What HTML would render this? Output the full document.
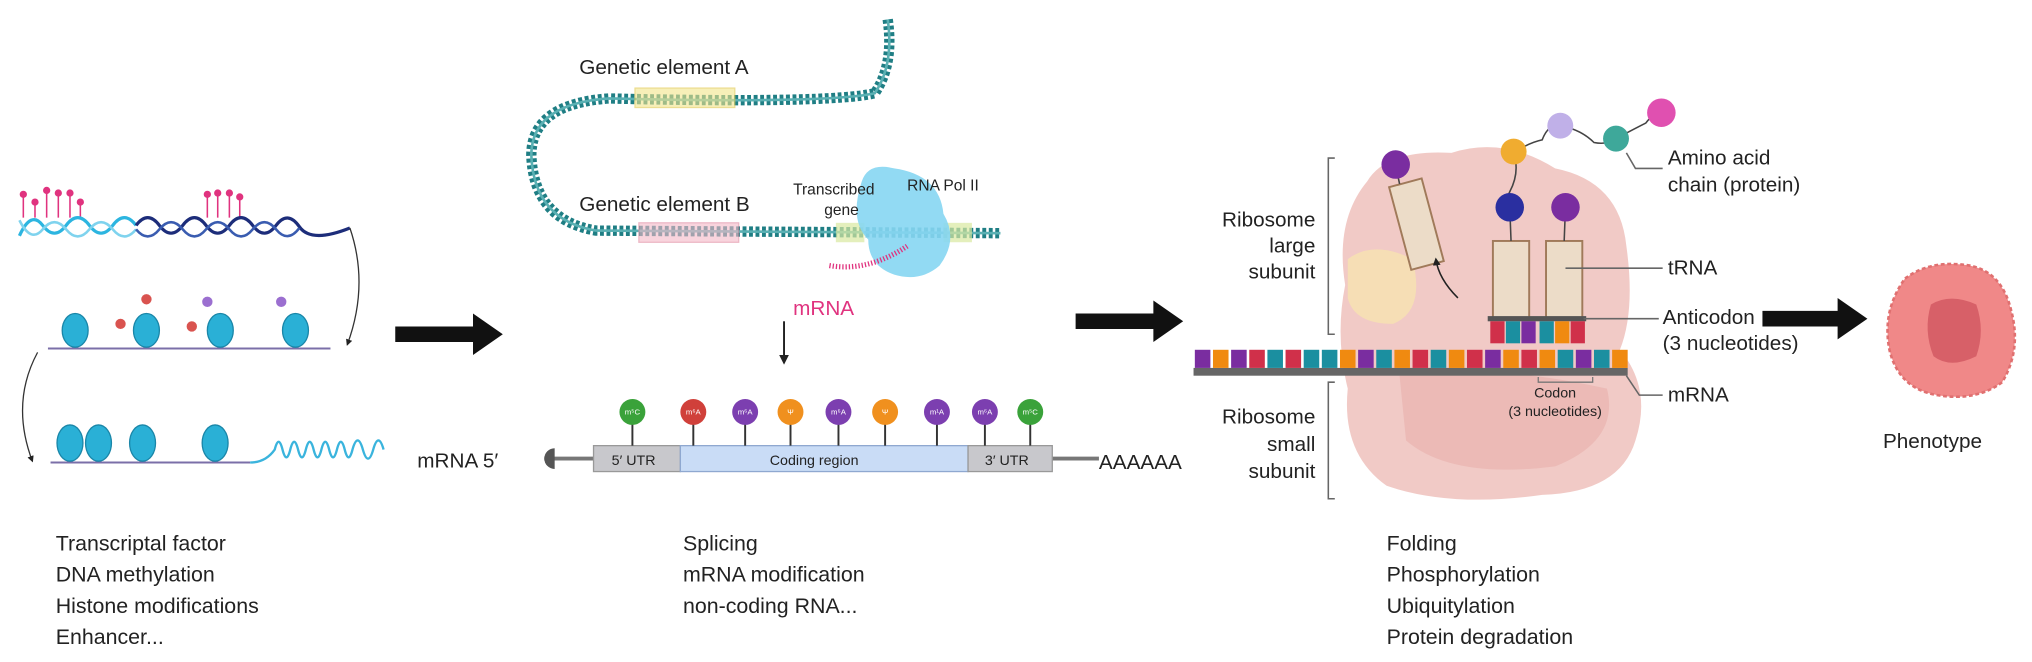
<!DOCTYPE html>
<html><head><meta charset="utf-8"><style>
html,body{margin:0;padding:0;background:#fff;}
svg{display:block;}
text{font-family:"Liberation Sans",sans-serif;fill:#222;}
</style></head><body>
<svg width="2032" height="662" viewBox="0 0 1568 511" preserveAspectRatio="none" xmlns="http://www.w3.org/2000/svg">
<defs>
<marker id="ah" viewBox="0 0 10 10" refX="8" refY="5" markerWidth="5" markerHeight="5" orient="auto"><path d="M0,0L10,5L0,10z" fill="#222"/></marker>
</defs>
<!-- LEFT: DNA with methylation -->
<g stroke="#e0337f" stroke-width="1.2" fill="#e0337f">
<line x1="18" y1="150" x2="18" y2="168"/><circle cx="18" cy="150" r="2.2"/>
<line x1="27" y1="156" x2="27" y2="168"/><circle cx="27" cy="156" r="2.2"/>
<line x1="36" y1="147" x2="36" y2="168"/><circle cx="36" cy="147" r="2.2"/>
<line x1="45" y1="149" x2="45" y2="168"/><circle cx="45" cy="149" r="2.2"/>
<line x1="54" y1="149" x2="54" y2="168"/><circle cx="54" cy="149" r="2.2"/>
<line x1="62" y1="156" x2="62" y2="168"/><circle cx="62" cy="156" r="2.2"/>
<line x1="160" y1="150" x2="160" y2="168"/><circle cx="160" cy="150" r="2.2"/>
<line x1="168" y1="149" x2="168" y2="168"/><circle cx="168" cy="149" r="2.2"/>
<line x1="177" y1="149" x2="177" y2="168"/><circle cx="177" cy="149" r="2.2"/>
<line x1="185" y1="152" x2="185" y2="168"/><circle cx="185" cy="152" r="2.2"/>
</g>
<path d="M15,182 Q24,162 33,174 T51,174 T69,174 T87,174 T105,174" fill="none" stroke="#2cb5e0" stroke-width="2.5"/>
<path d="M15,170 Q24,188 33,177 T51,177 T69,177 T87,177 T105,177" fill="none" stroke="#7fd3ee" stroke-width="2"/>
<path d="M105,174 Q114,162 123,174 T141,174 T159,174 T177,174 T195,174 T213,174 T231,175 T270,176" fill="none" stroke="#1d2d7a" stroke-width="2.5"/>
<path d="M105,177 Q114,188 123,177 T141,177 T159,177 T177,177 T195,177 T213,177 T231,176" fill="none" stroke="#3a5cb0" stroke-width="2"/>
<path d="M270,176 Q285,220 268,266" fill="none" stroke="#333" stroke-width="1" marker-end="url(#ah)"/>
<!-- nucleosomes row 1 -->
<path d="M37,269 L255,269" stroke="#7b6fa8" stroke-width="1.6"/>
<g fill="#2ab0d6" stroke="#1a86a8" stroke-width="1">
<ellipse cx="58" cy="255" rx="10" ry="13"/><ellipse cx="113" cy="255" rx="10" ry="13"/><ellipse cx="170" cy="255" rx="10" ry="13"/><ellipse cx="228" cy="255" rx="10" ry="13"/>
</g>
<g fill="#d9534f"><circle cx="113" cy="231" r="4"/><circle cx="93" cy="250" r="4"/><circle cx="148" cy="252" r="4"/></g>
<g fill="#9b6fd0"><circle cx="160" cy="233" r="4"/><circle cx="217" cy="233" r="4"/></g>
<path d="M29,272 Q8,311 25,356" fill="none" stroke="#333" stroke-width="1" marker-end="url(#ah)"/>
<!-- row 2 -->
<path d="M39,357 L193,357" stroke="#7b6fa8" stroke-width="1.6"/>
<g fill="#2ab0d6" stroke="#1a86a8" stroke-width="1">
<ellipse cx="54" cy="342" rx="10" ry="14"/><ellipse cx="76" cy="342" rx="10" ry="14"/><ellipse cx="110" cy="342" rx="10" ry="14"/><ellipse cx="166" cy="342" rx="10" ry="14"/>
</g>
<path d="M193,357 Q205,357 212,347 q3,-12 6,0 q3,12 6,0 q3,-12 6,0 q3,12 6,0 q3,-12 6,0 q3,12 6,0 q3,-12 6,0 q3,12 6,0 q3,-12 6,0 q3,12 6,0 q4,-14 8,0 q4,14 8,0 q4,-14 8,0" fill="none" stroke="#3ab4dd" stroke-width="1.8"/>
<text x="322" y="361" font-size="16">mRNA 5′</text>
<!-- big arrow 1 -->
<path d="M305,252 L365,252 L365,242 L388,258 L365,274 L365,264 L305,264Z" fill="#111"/>
<!-- MIDDLE DNA -->
<path d="M685,15 Q690,50 675,72 Q640,80 470,76 Q410,80 410,120 Q412,170 460,178 L772,180" fill="none" stroke="#1f7e84" stroke-width="8" stroke-dasharray="3,2"/>
<path d="M685,15 Q690,50 675,72 Q640,80 470,76 Q410,80 410,120 Q412,170 460,178 L772,180" fill="none" stroke="#5ab0b3" stroke-width="2"/>
<rect x="490" y="68" width="77" height="15" fill="#f3e58a" opacity="0.6" stroke="#e0c84a"/>
<rect x="493" y="172" width="77" height="15" fill="#f5b9c8" opacity="0.6" stroke="#e08aa0"/>
<rect x="645" y="172" width="22" height="15" fill="#d8e8a0" opacity="0.7"/>
<rect x="728" y="172" width="22" height="15" fill="#d8e8a0" opacity="0.7"/>
<text x="447" y="57" font-size="16">Genetic element A</text>
<text x="447" y="163" font-size="16">Genetic element B</text>
<path d="M665,140 Q670,125 690,130 Q725,135 728,165 Q740,185 725,205 Q710,218 690,212 Q670,205 670,185 Q655,170 665,140Z" fill="#86d6f2" opacity="0.9"/>
<path d="M640,205 Q670,210 700,190" fill="none" stroke="#e0337f" stroke-width="4" stroke-dasharray="1,1.5"/>
<text x="612" y="150" font-size="12" fill="#444">Transcribed</text>
<text x="636" y="166" font-size="12" fill="#444">gene</text>
<text x="700" y="147" font-size="12" fill="#444">RNA Pol II</text>
<text x="612" y="243" font-size="16" style="fill:#e0337f">mRNA</text>
<line x1="605" y1="248" x2="605" y2="280" stroke="#222" stroke-width="1.5" marker-end="url(#ah)"/>
<!-- mRNA bar -->
<line x1="420" y1="354" x2="848" y2="354" stroke="#777" stroke-width="3"/>
<path d="M428,346 A8,8 0 0 0 428,362Z" fill="#555"/>
<rect x="458" y="344" width="67" height="20" fill="#c8c8cc" stroke="#999"/>
<rect x="525" y="344" width="222" height="20" fill="#c9dcf6" stroke="#8fa8d0"/>
<rect x="747" y="344" width="65" height="20" fill="#c8c8cc" stroke="#999"/>
<text x="472" y="359" font-size="11" fill="#333">5′ UTR</text>
<text x="594" y="359" font-size="11" fill="#333">Coding region</text>
<text x="760" y="359" font-size="11" fill="#333">3′ UTR</text>
<text x="848" y="362" font-size="16">AAAAAA</text>
<g stroke="#333" stroke-width="1.5">
<line x1="488" y1="320" x2="488" y2="344"/><line x1="535" y1="320" x2="535" y2="344"/><line x1="575" y1="320" x2="575" y2="344"/><line x1="610" y1="320" x2="610" y2="344"/><line x1="647" y1="320" x2="647" y2="344"/><line x1="683" y1="320" x2="683" y2="344"/><line x1="723" y1="320" x2="723" y2="344"/><line x1="760" y1="320" x2="760" y2="344"/><line x1="795" y1="320" x2="795" y2="344"/>
</g>
<g>
<circle cx="488" cy="318" r="10" fill="#3aa23a"/><circle cx="535" cy="318" r="10" fill="#d0403a"/><circle cx="575" cy="318" r="10" fill="#7c3fb0"/><circle cx="610" cy="318" r="10" fill="#f0901e"/><circle cx="647" cy="318" r="10" fill="#7c3fb0"/><circle cx="683" cy="318" r="10" fill="#f0901e"/><circle cx="723" cy="318" r="10" fill="#7c3fb0"/><circle cx="760" cy="318" r="10" fill="#7c3fb0"/><circle cx="795" cy="318" r="10" fill="#3aa23a"/>
</g>
<g font-size="6" text-anchor="middle">
<text x="488" y="320" style="fill:#fff">m⁵C</text><text x="535" y="320" style="fill:#fff">m⁶A</text><text x="575" y="320" style="fill:#fff">m⁶A</text><text x="610" y="320" style="fill:#fff">Ψ</text><text x="647" y="320" style="fill:#fff">m⁶A</text><text x="683" y="320" style="fill:#fff">Ψ</text><text x="723" y="320" style="fill:#fff">m¹A</text><text x="760" y="320" style="fill:#fff">m⁶A</text><text x="795" y="320" style="fill:#fff">m⁵C</text>
</g>
<!-- big arrow 2 -->
<path d="M830,242 L890,242 L890,232 L913,248 L890,264 L890,254 L830,254Z" fill="#111"/>
<!-- RIBOSOME -->
<path d="M1055,140 Q1070,115 1120,118 Q1160,105 1200,130 Q1250,140 1255,190 Q1262,240 1250,270 Q1275,300 1262,340 Q1250,380 1190,382 Q1120,392 1070,375 Q1035,350 1040,300 Q1030,260 1038,220 Q1030,170 1055,140Z" fill="#f0c4c0" opacity="0.9"/>
<path d="M1040,200 Q1060,185 1090,200 Q1100,240 1075,250 Q1045,250 1040,230Z" fill="#f7e2b0" opacity="0.8"/>
<path d="M1080,290 Q1150,280 1240,300 Q1250,340 1200,360 Q1120,370 1085,340Z" fill="#e8a9a6" opacity="0.5"/>
<path d="M1030,122 L1025,122 L1025,258 L1030,258" fill="none" stroke="#666" stroke-width="1.2"/>
<path d="M1030,295 L1025,295 L1025,385 L1030,385" fill="none" stroke="#666" stroke-width="1.2"/>
<g font-size="16" text-anchor="end">
<text x="1015" y="175">Ribosome</text><text x="1015" y="195">large</text><text x="1015" y="215">subunit</text>
<text x="1015" y="327">Ribosome</text><text x="1015" y="348">small</text><text x="1015" y="369">subunit</text>
</g>
<!-- tRNAs -->
<rect x="1080" y="140" width="26" height="66" fill="#ecdcc8" stroke="#a07a5a" stroke-width="1.5" transform="rotate(-15 1093 173)"/>
<rect x="1152" y="186" width="28" height="60" fill="#ecdcc8" stroke="#a07a5a" stroke-width="1.5"/>
<rect x="1193" y="186" width="28" height="60" fill="#ecdcc8" stroke="#a07a5a" stroke-width="1.5"/>
<rect x="1148" y="244" width="76" height="4" fill="#555"/>
<rect x="1150" y="248" width="11" height="17" fill="#d0304a"/><rect x="1162" y="248" width="11" height="17" fill="#1b8fa0"/><rect x="1174" y="248" width="11" height="17" fill="#7a2da0"/><rect x="1188" y="248" width="11" height="17" fill="#1b8fa0"/><rect x="1200" y="248" width="11" height="17" fill="#f08a10"/><rect x="1212" y="248" width="11" height="17" fill="#d0304a"/>
<path d="M1125,230 Q1110,215 1108,200" fill="none" stroke="#222" stroke-width="1.2" marker-end="url(#ah)"/>
<path d="M1077,128 L1080,142 M1168,118 q5,15 -3,30 q-5,10 0,12 M1208,160 L1207,186 M1165,160 L1166,186" fill="none" stroke="#444" stroke-width="1.2"/>
<path d="M1168,118 Q1180,110 1190,108 Q1195,95 1204,97 Q1220,100 1230,110 Q1240,112 1247,107 Q1260,100 1270,95 Q1275,88 1282,87" fill="none" stroke="#444" stroke-width="1.2"/>
<circle cx="1077" cy="127" r="11" fill="#7a2da0"/>
<circle cx="1168" cy="117" r="10" fill="#f0ac30"/>
<circle cx="1165" cy="160" r="11" fill="#2a2fa0"/>
<circle cx="1208" cy="160" r="11" fill="#7a2da0"/>
<circle cx="1204" cy="97" r="10" fill="#c0b0e8"/>
<circle cx="1247" cy="107" r="10" fill="#3ea89a"/>
<circle cx="1282" cy="87" r="11" fill="#e050b0"/>
<!-- mRNA strip -->
<rect x="921" y="284" width="335" height="6" fill="#666"/>
<g>
<rect x="922" y="270" width="12" height="14" fill="#7a2da0"/><rect x="936" y="270" width="12" height="14" fill="#f08a10"/><rect x="950" y="270" width="12" height="14" fill="#7a2da0"/><rect x="964" y="270" width="12" height="14" fill="#d0304a"/><rect x="978" y="270" width="12" height="14" fill="#1b8fa0"/><rect x="992" y="270" width="12" height="14" fill="#d0304a"/><rect x="1006" y="270" width="12" height="14" fill="#1b8fa0"/><rect x="1020" y="270" width="12" height="14" fill="#1b8fa0"/><rect x="1034" y="270" width="12" height="14" fill="#f08a10"/><rect x="1048" y="270" width="12" height="14" fill="#7a2da0"/><rect x="1062" y="270" width="12" height="14" fill="#1b8fa0"/><rect x="1076" y="270" width="12" height="14" fill="#f08a10"/><rect x="1090" y="270" width="12" height="14" fill="#d0304a"/><rect x="1104" y="270" width="12" height="14" fill="#1b8fa0"/><rect x="1118" y="270" width="12" height="14" fill="#f08a10"/><rect x="1132" y="270" width="12" height="14" fill="#d0304a"/><rect x="1146" y="270" width="12" height="14" fill="#7a2da0"/><rect x="1160" y="270" width="12" height="14" fill="#f08a10"/><rect x="1174" y="270" width="12" height="14" fill="#d0304a"/><rect x="1188" y="270" width="12" height="14" fill="#f08a10"/><rect x="1202" y="270" width="12" height="14" fill="#1b8fa0"/><rect x="1216" y="270" width="12" height="14" fill="#7a2da0"/><rect x="1230" y="270" width="12" height="14" fill="#1b8fa0"/><rect x="1244" y="270" width="12" height="14" fill="#f08a10"/>
</g>
<path d="M1187,291 L1187,295 L1229,295 L1229,291" fill="none" stroke="#777"/>
<text x="1200" y="307" font-size="11" text-anchor="middle" fill="#555">Codon</text>
<text x="1200" y="321" font-size="11" text-anchor="middle" fill="#555">(3 nucleotides)</text>
<g stroke="#666" stroke-width="1.2" fill="none">
<path d="M1255,118 L1262,130 L1283,130"/>
<line x1="1208" y1="207" x2="1283" y2="207"/>
<line x1="1222" y1="246" x2="1280" y2="246"/>
<path d="M1255,290 L1265,305 L1283,305"/>
</g>
<g font-size="16">
<text x="1287" y="127">Amino acid</text><text x="1287" y="148">chain (protein)</text>
<text x="1287" y="212">tRNA</text>
<text x="1283" y="250">Anticodon</text><text x="1283" y="270">(3 nucleotides)</text>
<text x="1287" y="310">mRNA</text>
</g>
<!-- big arrow 3 -->
<path d="M1360,240 L1418,240 L1418,230 L1441,246 L1418,262 L1418,252 L1360,252Z" fill="#111"/>
<!-- cell -->
<path d="M1470,215 Q1490,200 1520,205 Q1545,210 1552,240 Q1560,270 1545,295 Q1525,310 1495,305 Q1465,300 1458,270 Q1452,240 1470,215Z" fill="#f08888" stroke="#e07070" stroke-width="2" stroke-dasharray="3,2"/>
<path d="M1490,235 Q1505,226 1525,235 Q1532,255 1525,275 Q1505,285 1492,275 Q1484,255 1490,235Z" fill="#d76068"/>
<text x="1453" y="346" font-size="16">Phenotype</text>
<!-- bottom text -->
<g font-size="16.5">
<text x="43" y="425">Transcriptal factor</text><text x="43" y="449">DNA methylation</text><text x="43" y="473">Histone modifications</text><text x="43" y="497">Enhancer...</text>
<text x="527" y="425">Splicing</text><text x="527" y="449">mRNA modification</text><text x="527" y="473">non-coding RNA...</text>
<text x="1070" y="425">Folding</text><text x="1070" y="449">Phosphorylation</text><text x="1070" y="473">Ubiquitylation</text><text x="1070" y="497">Protein degradation</text>
</g>
</svg>
</body></html>
